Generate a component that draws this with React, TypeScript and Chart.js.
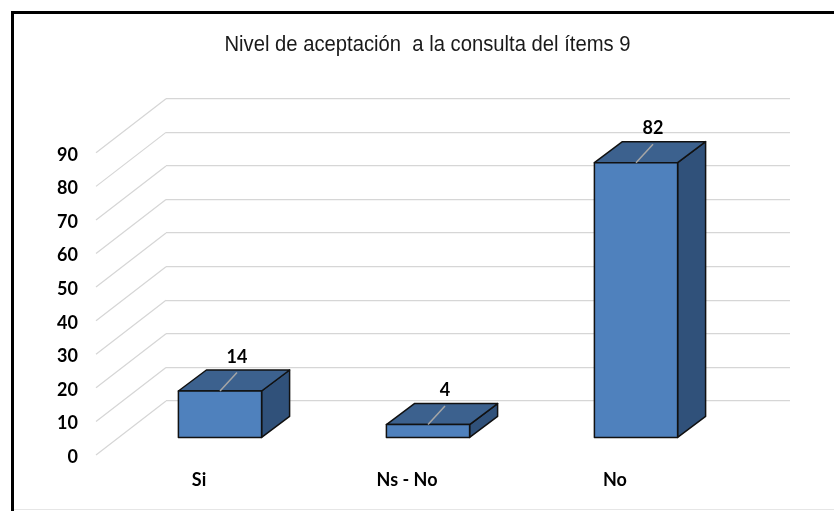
import { useEffect, useRef } from 'react';
import { Chart, registerables } from 'chart.js';

Chart.register(...registerables);

// ---- data ----
const categories = ['Si', 'Ns - No', 'No'];
const values = [14, 4, 82];
const yMin = 0;
const yMax = 90;
const yStep = 10;
const chartTitle = 'Nivel de aceptación  a la consulta del ítems 9';

// ---- pseudo-3D projection (pixels) ----
const WALL = { dx: -70, dy: 54 }; // front edge of the floor relative to the back wall
const BAR_FRONT = { dx: -50, dy: 37 }; // bar front face relative to the back wall
const BAR_DEPTH = { dx: 28, dy: -21 }; // from bar front face to its back face

const GRID_COLOR = '#d6d6d6';
const FACE_FRONT = '#4f81bd';
const FACE_TOP = '#3c618e';
const FACE_SIDE = '#30517a';
const EDGE = '#111111';
const TEXT = '#000000';
const BOLD_FONT = { family: 'Lato, "Noto Sans", sans-serif', size: 18, weight: 'bold' as const };

const box3dPlugin = {
  id: 'box3d',
  beforeDraw(chart: Chart) {
    const { ctx, width, height } = chart;
    ctx.save();
    // outer frame
    ctx.strokeStyle = '#000';
    ctx.lineWidth = 3;
    ctx.strokeRect(12.5, 12.5, width + 40, height + 40);
    ctx.strokeStyle = '#e6e6e6';
    ctx.lineWidth = 1;
    ctx.beginPath();
    ctx.moveTo(14, 509.5);
    ctx.lineTo(width, 509.5);
    ctx.stroke();
    ctx.restore();
  },
  beforeDatasetsDraw(chart: Chart) {
    const { ctx, chartArea } = chart;
    const y = chart.scales.y;
    ctx.save();
    ctx.strokeStyle = GRID_COLOR;
    ctx.lineWidth = 1.25;
    // side-wall diagonals joining each back-wall gridline to the front edge
    y.ticks.forEach((t) => {
      const py = y.getPixelForValue(t.value);
      ctx.beginPath();
      ctx.moveTo(chartArea.left + WALL.dx, py + WALL.dy);
      ctx.lineTo(chartArea.left, py);
      ctx.stroke();
    });
    ctx.restore();
  },
  afterDatasetsDraw(chart: Chart) {
    const { ctx } = chart;
    const meta = chart.getDatasetMeta(0);
    const data = chart.data.datasets[0].data as number[];
    meta.data.forEach((el, i) => {
      const p = el.getProps(['x', 'y', 'base', 'width'], true) as any;
      const l = p.x - p.width / 2 + BAR_FRONT.dx;
      const r = p.x + p.width / 2 + BAR_FRONT.dx;
      const t = p.y + BAR_FRONT.dy;
      const b = p.base + BAR_FRONT.dy;
      const dx = BAR_DEPTH.dx;
      const dy = BAR_DEPTH.dy;
      ctx.save();
      ctx.lineJoin = 'round';
      ctx.lineWidth = 1.5;
      ctx.strokeStyle = EDGE;

      // side face
      ctx.beginPath();
      ctx.moveTo(r, t);
      ctx.lineTo(r + dx, t + dy);
      ctx.lineTo(r + dx, b + dy);
      ctx.lineTo(r, b);
      ctx.closePath();
      ctx.fillStyle = FACE_SIDE;
      ctx.fill();
      ctx.stroke();

      // top face
      ctx.beginPath();
      ctx.moveTo(l, t);
      ctx.lineTo(l + dx, t + dy);
      ctx.lineTo(r + dx, t + dy);
      ctx.lineTo(r, t);
      ctx.closePath();
      ctx.fillStyle = FACE_TOP;
      ctx.fill();
      ctx.stroke();

      // front face
      ctx.beginPath();
      ctx.rect(l, t, r - l, b - t);
      ctx.fillStyle = FACE_FRONT;
      ctx.fill();
      ctx.stroke();

      // value label with leader line
      const cx = (l + r) / 2;
      const ex = cx + 17;
      const ey = t - 18.5;
      ctx.strokeStyle = '#a6a6a6';
      ctx.lineWidth = 1.5;
      ctx.beginPath();
      ctx.moveTo(cx, t);
      ctx.lineTo(ex, ey);
      ctx.stroke();

      ctx.fillStyle = TEXT;
      ctx.font = `bold ${BOLD_FONT.size}px ${BOLD_FONT.family}`;
      ctx.textAlign = 'center';
      ctx.textBaseline = 'middle';
      ctx.fillText(String(data[i]), ex, ey - 15.5);
      ctx.restore();
    });
  },
  afterDraw(chart: Chart) {
    const { ctx } = chart;
    ctx.save();
    // chart title, slightly condensed
    ctx.translate(427.5, 44.5);
    ctx.scale(0.92, 1);
    ctx.fillStyle = '#1a1a1a';
    ctx.font = '22px "Liberation Sans", Arial, sans-serif';
    ctx.textAlign = 'center';
    ctx.textBaseline = 'middle';
    ctx.fillText(chartTitle, 0, 0);
    ctx.restore();
  },
};

export default function App() {
  const canvasRef = useRef<HTMLCanvasElement | null>(null);

  useEffect(() => {
    const canvas = canvasRef.current;
    if (!canvas) return;
    const chart = new Chart(canvas, {
      type: 'bar',
      data: {
        labels: categories,
        datasets: [
          {
            data: values,
            backgroundColor: 'rgba(0,0,0,0)',
            borderWidth: 0,
            categoryPercentage: 0.8,
            barPercentage: 0.5,
          },
        ],
      },
      options: {
        responsive: false,
        animation: false,
        events: [],
        layout: { padding: { left: 0, right: 44, top: 93, bottom: 0 } },
        plugins: {
          legend: { display: false },
          tooltip: { enabled: false },
          title: { display: false },
        },
        scales: {
          x: {
            grid: { display: false, drawTicks: false },
            border: { display: false },
            ticks: {
              color: TEXT,
              font: BOLD_FONT,
              labelOffset: WALL.dx - 1,
              padding: 68,
              maxRotation: 0,
            },
            afterFit: (scale: any) => {
              scale.height = 110;
            },
          },
          y: {
            min: yMin,
            max: yMax,
            grid: { color: GRID_COLOR, lineWidth: 1.25, drawTicks: false },
            border: { display: false },
            ticks: {
              stepSize: yStep,
              color: TEXT,
              font: BOLD_FONT,
              labelOffset: WALL.dy + 2,
              padding: 88,
            },
            afterFit: (scale: any) => {
              scale.width = 166;
            },
          },
        },
      },
      plugins: [box3dPlugin],
    });
    return () => chart.destroy();
  }, []);

  return (
    <div style={{ position: 'fixed', left: 0, top: 0, width: 834, height: 511, overflow: 'hidden', background: '#fff' }}>
      <canvas ref={canvasRef} width={834} height={511} style={{ display: 'block' }} />
    </div>
  );
}
